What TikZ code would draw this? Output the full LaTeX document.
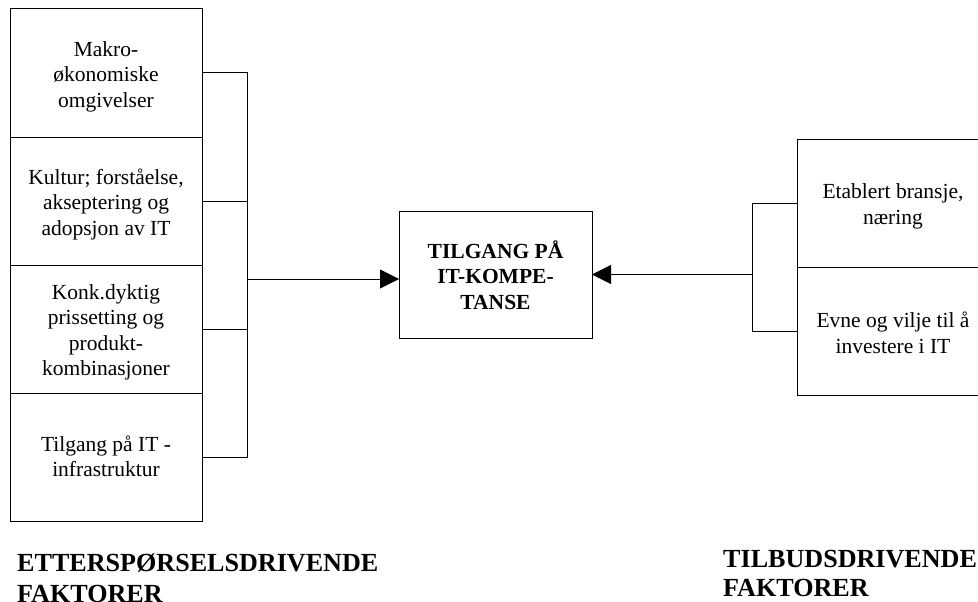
\documentclass[tikz,border=0pt]{standalone}
\usepackage{fontspec}
\setmainfont{Liberation Serif}
\usetikzlibrary{arrows.meta, positioning}
\newcommand{\boxtxt}    {\fontsize{21.5}{25.5}\selectfont}
\newcommand{\lbltxt}[1] {\fontsize{26.1}{#1}\selectfont\bfseries}
\newcommand{\topstrut}  {\rule{0pt}{22pt}}
\newcommand{\botstrut}  {\rule[-3.5pt]{0pt}{3.5pt}}

\begin{document}
\begin{tikzpicture}
    [
        x=1pt, y=-1pt,
        font=\boxtxt,
        node distance=0pt,
        fbox/.style  ={rectangle, draw=black, line width=1pt, inner sep=3pt,
                       outer sep=0pt, minimum width=192pt, minimum height=128pt,
                       align=center},
        gbox/.style  ={fbox, minimum width=193pt, minimum height=127pt,
                       font=\boxtxt\bfseries},
        link/.style  ={-, line width=1pt},
        oarc/.style  ={-{Triangle[length=19pt,width=19pt]}, line width=1pt},
        lbl/.style   ={anchor=north west, inner sep=0pt, align=left}
    ]

    \useasboundingbox (0,0) rectangle (978,602);

    % etterspoerselsdrivende faktorer
    \node[fbox]     (m1)    at (106,73)          {\topstrut Makro-\\økonomiske\\omgivelser\botstrut};
    \node[fbox]     (m2)    [below=of m1]        {\topstrut Kultur; forståelse,\\akseptering og\\adopsjon av IT\botstrut};
    \node[fbox]     (m3)    [below=of m2]        {\topstrut Konk.dyktig\\prissetting og\\produkt-\\kombinasjoner\botstrut};
    \node[fbox]     (m4)    [below=of m3]        {\topstrut Tilgang på IT -\\infrastruktur\strut};

    % tilbudsdrivende faktorer
    \node[fbox]     (e1)    at (893,203)         {\topstrut Etablert bransje,\\næring\botstrut};
    \node[fbox]     (e2)    [below=of e1]        {\topstrut Evne og vilje til å\\investere i IT\botstrut};

    \node[gbox]     (goal)  at (495.5,274.5)     {\topstrut TILGANG PÅ\\IT-KOMPE-\\TANSE\botstrut};

    \coordinate     (jl)    at (247,279);
    \coordinate     (jr)    at (752,274.5);

    \node[lbl, font=\lbltxt{31}]  (dlbl)  at (17,554)   {ETTERSPØRSELSDRIVENDE\\FAKTORER};
    \node[lbl, font=\lbltxt{29}]  (slbl)  at (723,550)  {TILBUDSDRIVENDE\\FAKTORER};

    \draw[link]     (m1.east) -| (jl);
    \draw[link]     (m2.east) -| (jl);
    \draw[link]     (m3.east) -| (jl);
    \draw[link]     (m4.east) -| (jl);
    \draw[oarc]     (jl) -- (jl -| goal.west);

    \draw[link]     (e1.west) -| (jr);
    \draw[link]     (e2.west) -| (jr);
    \draw[oarc]     (jr) -- (goal.east);

\end{tikzpicture}
\end{document}
